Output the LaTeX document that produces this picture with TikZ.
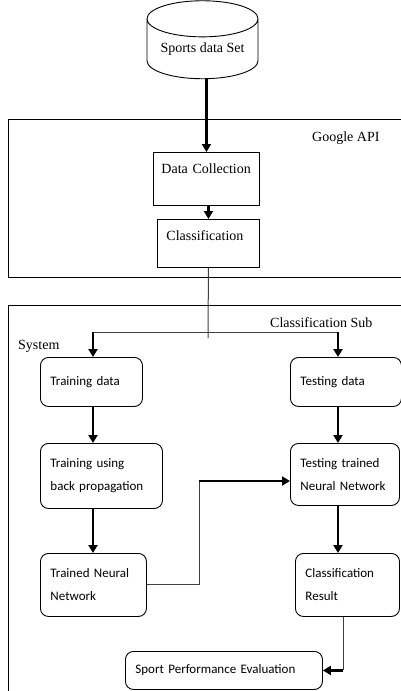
\documentclass[tikz,border=0pt]{standalone}
\usepackage{fontspec}
\setmainfont{Liberation Serif}
\newfontfamily\calib{Carlito}
\usetikzlibrary{arrows.meta,shapes.geometric}

\begin{document}
\begin{tikzpicture}[x=1pt,y=-1pt,
  thinline/.style={black!75, line width=1pt},
  thickarr/.style={black, line width=2.4pt, -{Triangle[length=8pt,width=9pt]}},
  apibox/.style={draw, line width=0.9pt, anchor=north west, inner ysep=0pt, inner xsep=8pt,
    align=left, text height=21pt, text depth=#1, font=\fontsize{14}{16}\selectfont},
  rbox/.style={draw, line width=0.9pt, rounded corners=8pt, anchor=north west, inner ysep=0pt,
    inner xsep=10pt, align=left, font=\calib\fontsize{13}{23}\selectfont},
  serif/.style={inner sep=0pt, font=\fontsize{14}{16}\selectfont}]
\useasboundingbox (0,0) rectangle (401,691);
% data source
\node[cylinder, shape border rotate=90, draw, line width=0.9pt, aspect=0.43,
  minimum width=111pt, minimum height=78pt, serif] (sports) at (202.5,49) {Sports data Set};
% Google API block
\node[draw, line width=0.9pt, anchor=north west, inner sep=0pt, minimum width=402pt,
  minimum height=158pt] (googleapi) at (8,119) {};
\node[serif, anchor=west] (apitxt) at (312,138) {Google API};
\node[apibox=32pt, text width=90pt] (datacoll) at (153,152) {Data Collection};
\node[apibox=27pt, text width=84pt, inner xsep=9pt] (classif) at (157,219) {Classification};
% classification sub system block
\node[draw, line width=0.9pt, anchor=north west, inner sep=0pt, minimum width=402pt,
  minimum height=400pt] (subsys) at (8,305) {};
\node[serif, anchor=west] (subtxt) at (270,323) {Classification Sub};
\node[serif, anchor=west] (systxt) at (18,346) {System};
\node[rbox, text width=82pt, minimum height=49pt] (train) at (40,357) {Training data};
\node[rbox, text width=91pt, minimum height=49pt] (test) at (290,357) {Testing data};
\node[rbox, text width=102pt, minimum height=65pt] (trainbp) at (40,443) {Training using\\back propagation};
\node[rbox, text width=89pt, minimum height=62pt] (testnn) at (290,443) {Testing trained\\Neural Network};
\node[rbox, text width=86pt, minimum height=63pt] (trained) at (40,553) {Trained Neural\\Network};
\node[rbox, text width=84pt, minimum height=63pt] (result) at (295,553) {Classification\\Result};
\node[rbox, text width=177pt, minimum height=38pt] (eval) at (125,651) {Sport Performance Evaluation};
% connectors
\coordinate (stub) at (208,338);
\coordinate (forkL) at (93,332);
\coordinate (forkR) at (338,332);
\coordinate (bend) at (199,481);
\draw[thickarr] (datacoll.north |- sports.south) -- (datacoll.north);
\draw[thickarr] (datacoll.south -| classif.north) -- (classif.north);
\draw[thinline] (classif.south) -- (stub);
\draw[thinline] (forkL) -- (forkR);
\draw[thickarr] (forkL) -- (forkL |- train.north);
\draw[thickarr] (forkR) -- (forkR |- test.north);
\draw[thickarr] (forkL |- train.south) -- (forkL |- trainbp.north);
\draw[thickarr] (forkR |- test.south) -- (forkR |- testnn.north);
\draw[thickarr] (forkL |- trainbp.south) -- (forkL |- trained.north);
\draw[thickarr] (forkR |- testnn.south) -- (forkR |- result.north);
\draw[thinline] (trained.east) -| (bend);
\draw[thickarr] (bend) -- (bend -| testnn.west);
\draw[thinline] ([xshift=-4pt]result.south) -- ([xshift=-4pt]result.south |- eval.east) coordinate (turn);
\draw[thickarr] (turn) -- (eval.east);
\end{tikzpicture}
\end{document}
